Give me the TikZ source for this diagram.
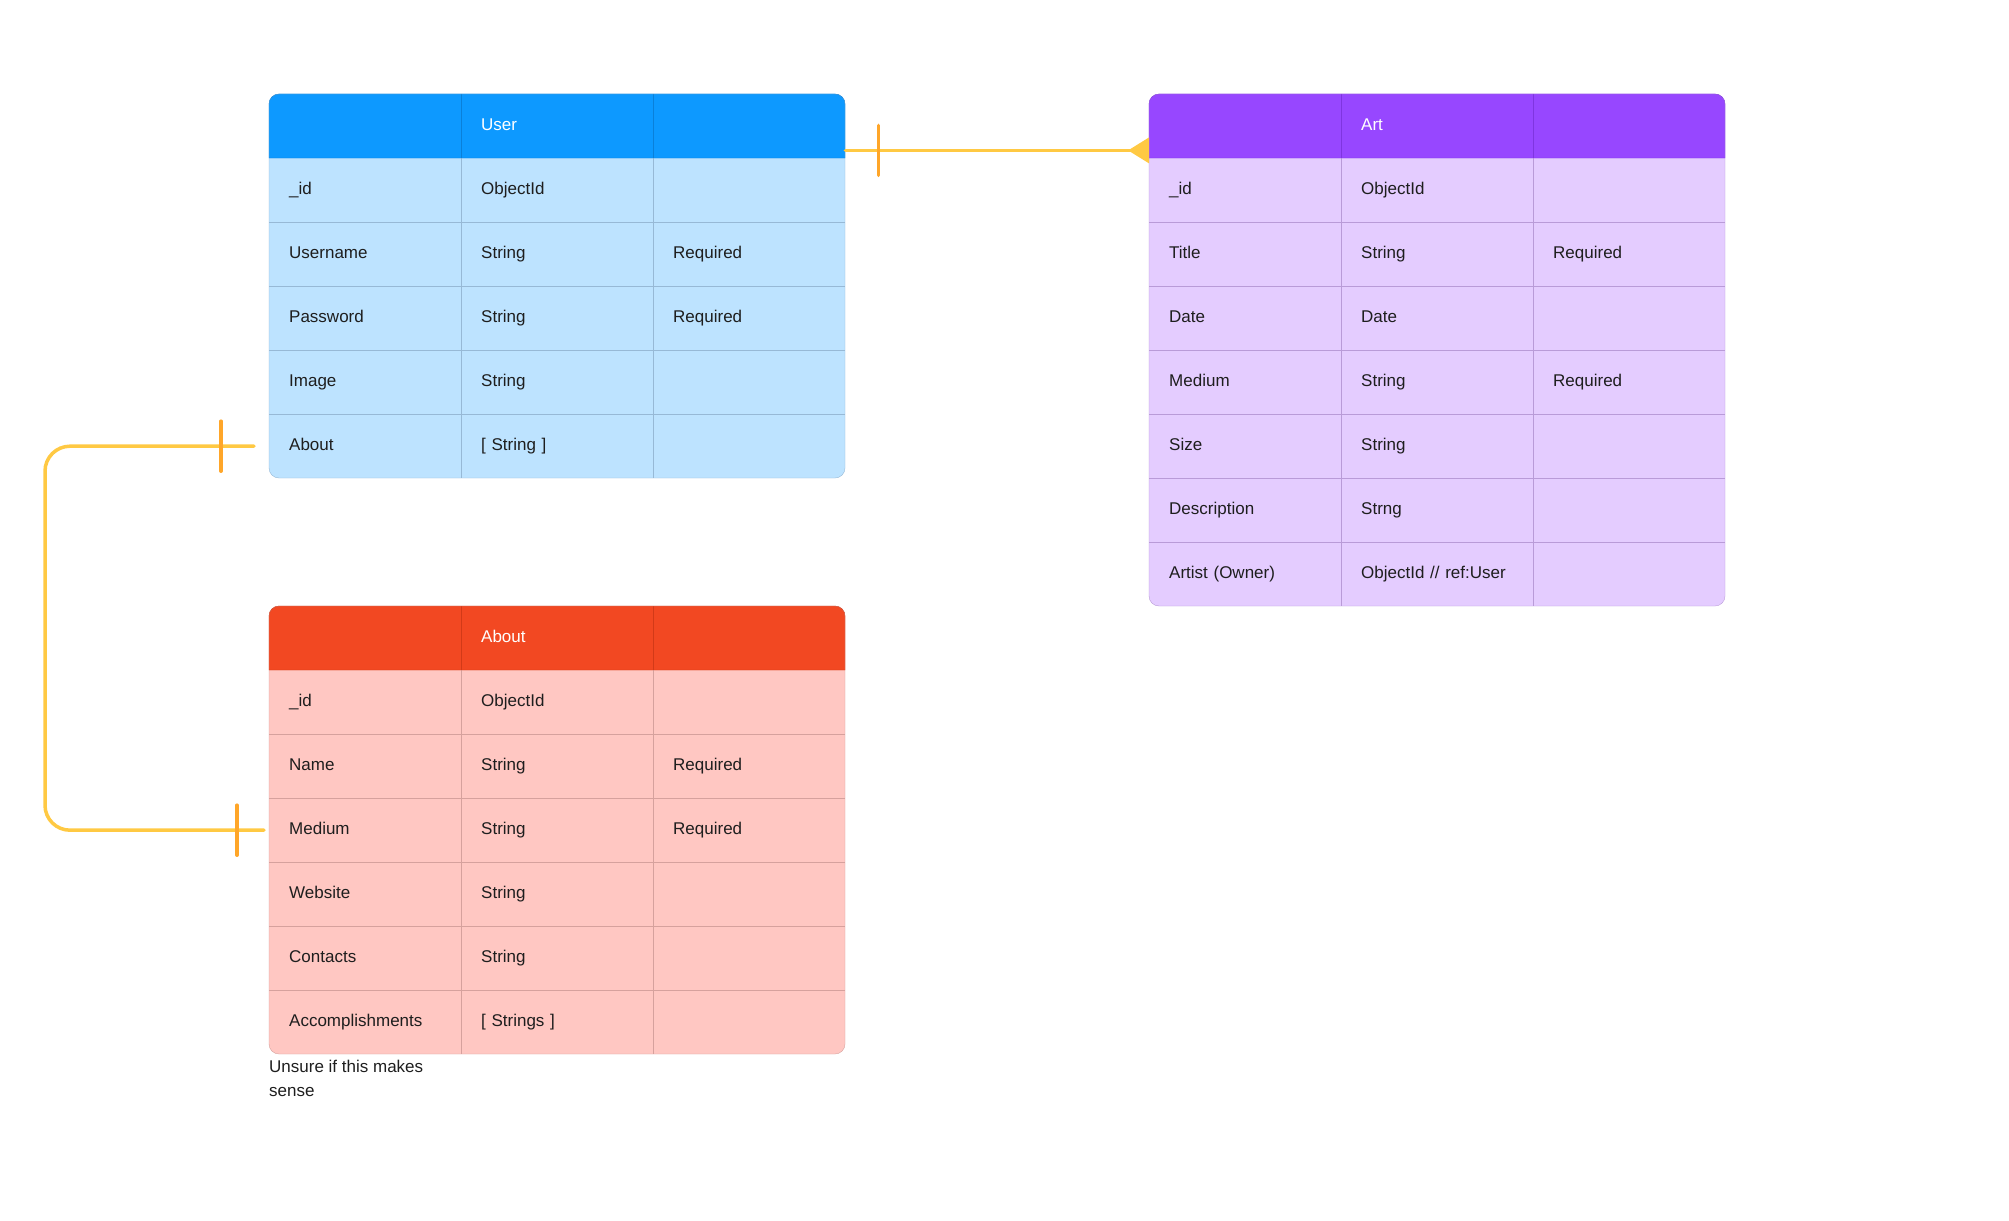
\documentclass[tikz,border=0pt]{standalone}
\usepackage{fontspec}
\setmainfont{Liberation Sans}
\usetikzlibrary{arrows.meta}

\definecolor{userhead}{HTML}{0D99FF}
\definecolor{userbody}{HTML}{BDE3FF}
\definecolor{userrule}{HTML}{97B9D6}
\definecolor{userdark}{HTML}{0A80D9}
\definecolor{arthead}{HTML}{9747FF}
\definecolor{artbody}{HTML}{E4CCFF}
\definecolor{artrule}{HTML}{B99BD8}
\definecolor{artdark}{HTML}{7F35E0}
\definecolor{abouthead}{HTML}{F24822}
\definecolor{aboutbody}{HTML}{FFC7C2}
\definecolor{aboutrule}{HTML}{D6A19D}
\definecolor{aboutdark}{HTML}{D23A18}
\definecolor{linkcol}{HTML}{FFC943}
\definecolor{tickcol}{HTML}{FFA629}
\definecolor{textcol}{HTML}{1E1E1E}

\tikzset{
  cell/.style={anchor=north west, text width=152pt, inner xsep=20pt, inner ysep=0pt,
    text height=12pt, text depth=4pt, minimum height=64pt, align=left,
    font=\fontsize{17}{20}\selectfont, text=textcol},
  headcell/.style={cell, text=white},
  link/.style={draw=linkcol, line width=3.5pt, line cap=round},
  tick/.style={draw=tickcol, line width=3.5pt, line cap=round},
}

% #1 name, #2 colour, #3 x, #4 y, #5 title, #6 rows, #7 number of rows
\newcommand{\erdtable}[7]{%
  \fill[#2body, rounded corners=10pt] (#3,#4) rectangle ++(576,{64*(#7+1)});
  \fill[#2head] (#3,#4+64) [rounded corners=10pt] -- (#3,#4) -- (#3+576,#4)
    [sharp corners] -- (#3+576,#4+64) -- cycle;
  \foreach \k in {2,...,#7}
    \draw[#2rule] (#3,#4+64*\k) -- ++(576,0);
  \foreach \k in {1,2} {
    \draw[#2rule] (#3+192*\k,#4+64) -- (#3+192*\k,{#4+64*(#7+1)});
    \draw[#2dark] (#3+192*\k,#4) -- (#3+192*\k,#4+64);
  }
  \draw[#2rule, rounded corners=10pt] (#3,#4) rectangle ++(576,{64*(#7+1)});
  \draw[#2dark] (#3,#4+64) [rounded corners=10pt] -- (#3,#4) -- (#3+576,#4)
    [sharp corners] -- (#3+576,#4+64) -- cycle;
  \node[headcell] (#1-h1) at (#3,#4) {};
  \node[headcell] (#1-h2) at (#3+192,#4) {#5};
  \node[headcell] (#1-h3) at (#3+384,#4) {};
  \foreach \a/\b/\c [count=\i] in {#6} {
    \node[cell] (#1-\i) at (#3,#4+64*\i) {\a};
    \node[cell] (#1-\i-type) at (#3+192,#4+64*\i) {\b};
    \node[cell] (#1-\i-opt) at (#3+384,#4+64*\i) {\c};
  }
}

\begin{document}
\begin{tikzpicture}[x=1pt,y=-1pt]
  \useasboundingbox (0,0) rectangle (2009,1220);

  \erdtable{user}{user}{269}{94}{User}{%
    \_id/ObjectId/{}, Username/String/Required, Password/String/Required,
    Image/String/{}, About/{[ String ]}/{}}{5}
  \erdtable{art}{art}{1149}{94}{Art}{%
    \_id/ObjectId/{}, Title/String/Required, Date/Date/{}, Medium/String/Required,
    Size/String/{}, Description/Strng/{}, Artist (Owner)/{ObjectId // ref:User}/{}}{7}
  \erdtable{about}{about}{269}{606}{About}{%
    \_id/ObjectId/{}, Name/String/Required, Medium/String/Required,
    Website/String/{}, Contacts/String/{}, Accomplishments/{[ Strings ]}/{}}{6}

  \node[anchor=north west, inner sep=0pt, align=left, text=textcol,
    font=\fontsize{17}{24}\selectfont] (note) at (269,1060) {Unsure if this makes\\sense};

  % user -- art
  \draw[link, -{Triangle[reversed, length=21pt, width=25pt]}]
    ([yshift=8pt]user-h3.south east) -- ([yshift=8pt]art-h1.south west);
  \draw[tick] ([xshift=33pt, yshift=8pt]user-h3.south east) ++(0,-25) -- ++(0,50);

  % user -- about
  \draw[link, rounded corners=25pt] ([xshift=-15pt]user-5.west) -- ++(-209,0)
    |- ([xshift=-5pt]about-3.west);
  \draw[tick] ([xshift=-48pt]user-5.west) ++(0,-25) -- ++(0,50);
  \draw[tick] ([xshift=-32pt]about-3.west) ++(0,-25) -- ++(0,50);
\end{tikzpicture}
\end{document}
